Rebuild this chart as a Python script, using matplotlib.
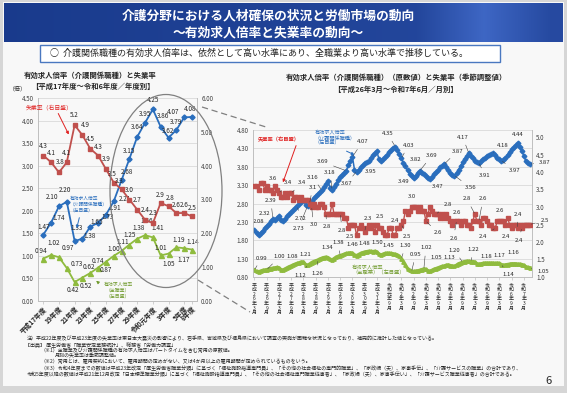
import numpy as np
import matplotlib.pyplot as plt
from matplotlib.patches import Rectangle, Ellipse, FancyArrowPatch
from matplotlib.lines import Line2D
from matplotlib.ticker import FormatStrFormatter

plt.rcParams['font.family'] = ['Noto Sans CJK JP', 'DejaVu Sans']

# ---- 年度別（左グラフ） ----
fy_ticks = ['平成17年度', '19年度', '21年度', '23年度', '25年度', '27年度', '29年度',
            '令和元年度', '3年度', '5年度', '6年度']
fy_tick_pos = [0, 2, 4, 6, 8, 10, 12, 14, 16, 18, 19]
care_fy = [1.47, 1.74, 2.10, 2.20, 1.33, 1.38, 1.65, 1.73, 1.91, 2.21,
           2.68, 3.15, 3.64, 3.95, 4.25, 3.86, 3.62, 3.79, 4.07, 4.08]
all_fy = [0.94, 1.02, 0.97, 0.73, 0.42, 0.52, 0.62, 0.74, 0.87, 1.00,
          1.11, 1.25, 1.38, 1.46, 1.41, 1.01, 1.05, 1.19, 1.17, 1.14]
unemp_fy = [4.3, 4.1, 3.8, 4.1, 5.2, 4.9, 4.5, 4.3, 3.9, 3.5,
            3.3, 3.0, 2.7, 2.4, 2.3, 2.9, 2.8, 2.6, 2.6, 2.5]

# ---- 月別（右グラフ） 平成26年3月～令和7年6月 ----
month_ticks = ['平成26年3月', '平成26年9月', '平成27年3月', '平成27年9月', '平成28年3月',
               '平成28年9月', '平成29年3月', '平成29年9月', '平成30年3月', '平成30年9月',
               '平成31年3月', '令和元年9月', '令和2年3月', '令和2年9月', '令和3年3月',
               '令和3年9月', '令和4年3月', '令和4年9月', '令和5年3月', '令和5年9月',
               '令和6年3月', '令和6年9月', '令和7年3月']
care_m = [2.08, 2.00, 1.95, 2.00, 2.06, 2.12, 2.18, 2.25, 2.32, 2.39,
          2.36, 2.40, 2.45, 2.35, 2.32, 2.38, 2.45, 2.52, 2.58, 2.63, 2.68, 2.72,
          2.78, 2.84, 2.90, 2.76, 2.73, 2.78, 2.86, 2.94, 3.01, 3.07, 3.12, 3.16,
          3.25, 3.34, 3.42, 3.22, 3.18, 3.25, 3.34, 3.43, 3.51, 3.58, 3.64, 3.69,
          3.85, 3.97, 4.07, 3.72, 3.67, 3.72, 3.79, 3.85, 3.90, 3.93, 3.95, 4.05,
          4.12, 4.18, 4.22, 4.00, 3.95, 4.00, 4.07, 4.13, 4.19, 4.25, 4.30, 4.35,
          4.25, 4.14, 4.03, 3.90, 3.82, 3.70, 3.61, 3.54, 3.49, 3.56, 3.63, 3.69,
          3.64, 3.60, 3.56, 3.50, 3.47, 3.52, 3.59, 3.66, 3.72, 3.78, 3.83, 3.87,
          3.80, 3.72, 3.64, 3.58, 3.56, 3.62, 3.72, 3.82, 3.92, 4.02, 4.10, 4.17,
          4.10, 4.03, 3.97, 3.93, 3.91, 3.95, 4.00, 4.05, 4.09, 4.13, 4.16, 4.18,
          4.12, 4.05, 4.00, 3.97, 3.99, 4.05, 4.13, 4.20, 4.27, 4.33, 4.39, 4.44,
          4.35, 4.22, 4.10, 3.95, 3.90, 3.87]
all_m = [0.99, 0.95, 0.94, 0.96, 0.98, 0.99, 1.00, 1.02, 1.03, 1.04,
         1.05, 1.06, 1.05, 1.00, 0.99, 1.02, 1.05, 1.08, 1.10, 1.13, 1.15, 1.17,
         1.19, 1.21, 1.21, 1.14, 1.12, 1.15, 1.19, 1.22, 1.24, 1.26, 1.29, 1.31,
         1.33, 1.34, 1.33, 1.28, 1.26, 1.30, 1.34, 1.36, 1.38, 1.40, 1.42, 1.44,
         1.45, 1.46, 1.45, 1.40, 1.38, 1.41, 1.44, 1.46, 1.48, 1.49, 1.50, 1.50,
         1.49, 1.50, 1.48, 1.42, 1.40, 1.42, 1.44, 1.45, 1.45, 1.44, 1.43, 1.42,
         1.40, 1.36, 1.30, 1.22, 1.12, 1.03, 0.98, 0.95, 0.95, 0.96, 0.97, 0.98,
         1.00, 1.02, 1.01, 0.97, 0.96, 0.98, 1.01, 1.03, 1.05, 1.07, 1.09, 1.10,
         1.12, 1.13, 1.11, 1.10, 1.09, 1.12, 1.16, 1.18, 1.20, 1.22, 1.23, 1.23,
         1.22, 1.22, 1.21, 1.16, 1.15, 1.16, 1.17, 1.18, 1.18, 1.18, 1.18, 1.18,
         1.17, 1.18, 1.17, 1.14, 1.12, 1.13, 1.14, 1.15, 1.16, 1.16, 1.16, 1.15,
         1.15, 1.14, 1.12, 1.08, 1.06, 1.05]
unemp_m = [3.6, 3.6, 3.5, 3.7, 3.7, 3.5, 3.6, 3.5, 3.5, 3.4,
           3.6, 3.5, 3.4, 3.3, 3.3, 3.4, 3.3, 3.4, 3.4, 3.2, 3.3, 3.3,
           3.2, 3.3, 3.2, 3.2, 3.2, 3.1, 3.0, 3.1, 3.0, 3.0, 3.1, 3.1,
           3.0, 2.8, 2.8, 2.8, 3.1, 2.8, 2.8, 2.8, 2.8, 2.8, 2.7, 2.7,
           2.4, 2.5, 2.5, 2.5, 2.2, 2.4, 2.5, 2.4, 2.3, 2.4, 2.5, 2.4,
           2.5, 2.3, 2.5, 2.4, 2.4, 2.3, 2.2, 2.2, 2.4, 2.4, 2.2, 2.2,
           2.4, 2.4, 2.5, 2.6, 2.9, 2.8, 2.9, 3.0, 3.0, 3.0, 2.9, 3.0,
           2.9, 2.9, 2.6, 2.8, 3.0, 2.9, 2.8, 2.8, 2.8, 2.7, 2.8, 2.7,
           2.8, 2.7, 2.6, 2.5, 2.6, 2.6, 2.6, 2.5, 2.6, 2.6, 2.5, 2.5,
           2.4, 2.6, 2.8, 2.6, 2.6, 2.5, 2.7, 2.7, 2.6, 2.5, 2.5, 2.4,
           2.4, 2.6, 2.6, 2.6, 2.6, 2.5, 2.7, 2.5, 2.4, 2.5, 2.5, 2.4,
           2.5, 2.4, 2.5, 2.5, 2.5, 2.5]

# 右グラフでラベルを付ける月
care_lbl = [0, 8, 9, 21, 26, 33, 38, 45, 48, 50, 56, 69, 72, 74, 78, 81, 86, 93,
            98, 105, 110, 117, 121, 129, 135]
unemp_lbl = [6, 12, 18, 27, 28, 35, 42, 47, 54, 58, 67, 72, 77, 84, 89, 96, 99,
             108, 110, 118, 122, 126, 129, 131, 135]
all_lbl = [0, 6, 17, 23, 26, 31, 35, 42, 47, 54, 59, 65, 72, 77, 83, 90, 95, 102,
           106, 113, 118, 121, 126, 135]

BLUE = '#2a6ebd'
RED = '#c0504d'
GREEN = '#8fbb3e'
GRID = '#d9d9d9'
TXT = '#262626'

W, H = 567, 393
fig = plt.figure(figsize=(W / 100, H / 100), dpi=100)
fig.patch.set_facecolor('#d6d6d6')


def rect(x0, y0, x1, y1):
    return [x0 / W, 1 - y1 / H, (x1 - x0) / W, (y1 - y0) / H]


def fx(x):
    return x / W


def fy(y):
    return 1 - y / H


def arrow(p0, p1, color, style='-|>'):
    fig.add_artist(FancyArrowPatch((fx(p0[0]), fy(p0[1])), (fx(p1[0]), fy(p1[1])),
                                   transform=fig.transFigure, arrowstyle=style,
                                   mutation_scale=4, color=color, lw=0.7))


# slide body (behind everything)
fig.add_artist(Rectangle((fx(3), fy(386)), (564 - 3) / W, (386 - 2) / H,
                         transform=fig.transFigure, facecolor='#f8f8f8', lw=0,
                         zorder=-10))

# ---- title banner ----
ax_b = fig.add_axes(rect(4, 3, 563, 42))
grad = np.linspace(0, 1, 300)
band = np.clip(1 - np.abs(grad - 0.86) / 0.12, 0, 1)
r = 0.10 + 0.05 * grad + 0.10 * band
g = 0.23 + 0.06 * grad + 0.12 * band
b = 0.55 + 0.08 * grad + 0.15 * band
img = np.dstack([r, g, b]).repeat(2, axis=0)
ax_b.imshow(img, aspect='auto', extent=[0, 1, 0, 1])
ax_b.axis('off')
fig.text(fx(268), fy(16), '介護分野における人材確保の状況と労働市場の動向', color='white',
         fontsize=9.2, weight='bold', ha='center', va='center')
fig.text(fx(268), fy(33), '～有効求人倍率と失業率の動向～', color='white',
         fontsize=9.2, weight='bold', ha='center', va='center')

# ---- summary box ----
fig.add_artist(Rectangle((fx(40), fy(62)), (500 - 40) / W, (62 - 45) / H,
                         transform=fig.transFigure, facecolor='white',
                         edgecolor='#4a78c0', lw=1.0))
fig.text(fx(50), fy(53.5), '○  介護関係職種の有効求人倍率は、依然として高い水準にあり、全職業より高い水準で推移している。',
         fontsize=6.5, ha='left', va='center', color=TXT)


def put_labels(ax, xs, ys, idx, offs, fmt, size, lead=12):
    for i, (dx, dy) in zip(idx, offs):
        far = (dx * dx + dy * dy) ** 0.5 > lead
        ax.annotate(fmt.format(ys[i]), (xs[i], ys[i]), xytext=(dx, dy),
                    textcoords='offset pixels', ha='center', va='center',
                    fontsize=size, color=TXT, zorder=8,
                    arrowprops=dict(arrowstyle='-', lw=0.4, color='#404040',
                                    shrinkA=2, shrinkB=1) if far else None)


# ---- left chart ----
fig.text(fx(90), fy(75), '有効求人倍率（介護関係職種）と失業率', fontsize=5.3,
         weight='bold', ha='center', va='center', color=TXT)
fig.text(fx(93), fy(86), '【平成17年度～令和6年度／年度別】', fontsize=5.3,
         weight='bold', ha='center', va='center', color=TXT)
fig.text(fx(18), fy(89), '（倍）', fontsize=4.3, ha='center', va='center', color=TXT)

axL = fig.add_axes(rect(38, 98, 197, 301))
axL2 = axL.twinx()
xf = np.arange(len(care_fy))
axL.plot(xf, care_fy, color=BLUE, marker='D', ms=2.6, lw=1.3, zorder=3)
axL.plot(xf, all_fy, color=GREEN, marker='^', ms=3.6, lw=1.3, zorder=3)
axL2.plot(xf, unemp_fy, color=RED, marker='s', ms=3.3, lw=1.3, zorder=3)
axL.set_xlim(-0.68, 19.64)
axL.set_ylim(0, 4.5)
axL2.set_ylim(0, 6)
axL.set_yticks(np.arange(0, 4.51, 0.5))
axL2.set_yticks(np.arange(0, 6.01, 1))
axL.yaxis.set_major_formatter(FormatStrFormatter('%.2f'))
axL2.yaxis.set_major_formatter(FormatStrFormatter('%.2f'))
axL.yaxis.grid(True, color=GRID, lw=0.6)
axL.set_axisbelow(True)
axL.set_xticks(fy_tick_pos)
axL.set_xticklabels(fy_ticks, rotation=45, ha='right', rotation_mode='anchor',
                    fontsize=4.8, weight='bold', color=TXT)
for a in (axL, axL2):
    a.set_facecolor('none')
    a.tick_params(axis='y', length=0, labelsize=4.5, labelcolor='#404040', pad=3)
    a.tick_params(axis='x', length=2, width=0.5, color='#bfbfbf', pad=1)
    for s in a.spines.values():
        s.set_color('#bfbfbf')
        s.set_linewidth(0.6)
    a.spines['top'].set_visible(False)

care_off_fy = [(0, 8), (8, 5), (-7, 9), (-2, 12), (2, 13), (7, 3), (6, 5), (10, 6), (9, 7), (11, 2),
               (5, 8), (0, 8), (0, 10), (0, 9), (0, 9), (2, 11), (0, 7), (0, 8), (-11, 5), (-2, 8)]
unemp_off_fy = [(0, 10), (0, 9), (1, 10), (0, 9), (0, 10), (3, 10), (0, 10), (0, 9), (0, 10), (-1, 9),
                (-2, 8), (0, 10), (0, 10), (0, 10), (0, 10), (0, 8), (2, 8), (0, 8), (0, 8), (0, 8)]
all_off_fy = [(-2, 8), (3, 12), (9, 9), (10, 4), (-2, -8), (3, -8), (-1, 6), (0, 7), (0, -8), (0, 7),
              (1, 9), (0, 10), (1, 11), (2, 14), (5, 9), (0, 7), (0, -10), (2, 7), (0, -12), (1, 8)]
put_labels(axL, xf, care_fy, range(20), care_off_fy, '{:.2f}', 4.6, lead=99)
put_labels(axL, xf, all_fy, range(20), all_off_fy, '{:.2f}', 4.6, lead=99)
put_labels(axL2, xf, unemp_fy, range(20), unemp_off_fy, '{:.1f}', 4.6, lead=99)

fig.text(fx(49), fy(107), '失業率（右目盛）', fontsize=4.2, color='#e02020',
         ha='center', va='center')
arrow((57, 111), (70, 137), '#e02020')
fig.text(fx(70), fy(204), '有効求人倍率\n（介護関係職種）\n（左目盛）', fontsize=3.4,
         color=BLUE, ha='left', va='center', linespacing=1.15)
arrow((80, 215), (76, 231), BLUE)
fig.text(fx(118), fy(290), '有効求人倍率\n（全職業）\n（左目盛）', fontsize=3.5,
         color='#6f9a2c', ha='center', va='center', linespacing=1.15)
arrow((100, 284), (94, 279), '#6f9a2c')

# zoom ellipse and dashed guides
fig.add_artist(Ellipse((fx(166), fy(191)), 112 / W, 193 / H, transform=fig.transFigure,
                       fill=False, edgecolor='#808080', lw=0.9))
fig.add_artist(Line2D([fx(202), fx(266)], [fy(107), fy(127)], transform=fig.transFigure,
                      color='#808080', lw=0.9, ls=(0, (5, 3))))
fig.add_artist(Line2D([fx(198), fx(250)], [fy(280), fy(312)], transform=fig.transFigure,
                      color='#808080', lw=0.9, ls=(0, (5, 3))))

# ---- right chart ----
fig.text(fx(396), fy(77), '有効求人倍率（介護関係職種）（原数値）と失業率（季節調整値）',
         fontsize=5.3, weight='bold', ha='center', va='center', color=TXT)
fig.text(fx(396), fy(89), '【平成26年3月～令和7年6月／月別】', fontsize=5.3,
         weight='bold', ha='center', va='center', color=TXT)

axR = fig.add_axes(rect(253, 130, 532, 277))
axR2 = axR.twinx()
xm = np.arange(len(care_m))
axR.plot(xm, all_m, color=GREEN, marker='^', ms=2.4, lw=2.4, zorder=3)
axR.plot(xm, care_m, color=BLUE, marker='D', ms=2.4, lw=1.1, zorder=3)
axR2.plot(xm, unemp_m, color=RED, marker='s', ms=2.3, lw=1.0, zorder=3)
axR.set_xlim(-0.73, 136.0)
axR.set_ylim(0.8, 4.8)
axR2.set_ylim(1.0, 5.2)
axR.set_yticks(np.arange(0.8, 4.81, 0.5))
axR2.set_yticks(np.arange(1.0, 5.01, 0.5))
axR.yaxis.set_major_formatter(FormatStrFormatter('%.2f'))
axR2.yaxis.set_major_formatter(FormatStrFormatter('%.1f'))
axR.yaxis.grid(True, color=GRID, lw=0.6)
axR.set_axisbelow(True)
axR.set_xticks(np.arange(0, len(care_m), 6))
axR.set_xticklabels(['\n'.join(t) for t in month_ticks], fontsize=3.6,
                    linespacing=0.9, va='top', color=TXT)
for a in (axR, axR2):
    a.set_facecolor('none')
    a.tick_params(axis='y', length=0, labelsize=4.5, labelcolor='#404040', pad=3)
    a.tick_params(axis='x', length=2, width=0.5, color='#bfbfbf', pad=2)
    for s in a.spines.values():
        s.set_color('#bfbfbf')
        s.set_linewidth(0.6)
    a.spines['top'].set_visible(False)

care_off = [(4, 8), (-6, 8), (-2, 18), (3, -12), (-9, -22), (-9, 13), (-2, 17), (-24, 9),
            (10, 15), (-10, -12), (2, -10), (-8, 13), (7, 13), (10, 7), (-10, -3), (12, 15),
            (8, -8), (13, 13), (16, -12), (-6, 16), (6, -13), (10, 7), (13, -10), (0, 9), (15, 2)]
unemp_off = [(6, 8), (9, 10), (11, 10), (3, 16), (2, -18), (1, -13), (2, -16), (0, -12),
             (3, 13), (7, 8), (4, 7), (6, -12), (0, 10), (12, -12), (12, 9), (7, 9), (-3, -17),
             (-8, 15), (4, 22), (-12, -9), (-3, 10), (-6, -9), (0, 14), (-3, -12), (15, 4)]
all_off = [(7, 12), (13, 13), (3, 10), (4, 7), (-7, -10), (0, -13), (1, 10), (-2, 13),
           (2, 8), (0, 9), (2, 9), (1, 8), (4, 13), (4, 17), (2, 21), (-2, 10), (1, 7),
           (-8, 12), (3, 12), (1, 7), (4, 8), (7, -10), (2, 11), (13, -4)]
put_labels(axR, xm, care_m, care_lbl, care_off, '{:.2f}', 4.3)
put_labels(axR, xm, all_m, all_lbl, all_off, '{:.2f}', 4.3)
put_labels(axR2, xm, unemp_m, unemp_lbl, unemp_off, '{:.1f}', 4.3)

fig.text(fx(279), fy(140), '失業率（右目盛）', fontsize=3.8, color='#e02020',
         weight='bold', ha='center', va='center')
arrow((297, 143), (282, 185), '#e02020')
fig.text(fx(315), fy(138), '有効求人倍率\n（介護関係職種）\n（左目盛）', fontsize=3.7,
         color=BLUE, ha='left', va='center', linespacing=1.1)
arrow((344, 150), (357, 156), BLUE)
fig.text(fx(352), fy(270), '有効求人倍率\n（全職業）（左目盛）', fontsize=3.8,
         color='#6f9a2c', ha='left', va='center', linespacing=1.05)

# ---- footnotes ----
notes = [
    (27, 338, '注）平成22年度及び平成23年度の失業率は東日本大震災の影響により、岩手県、宮城県及び福島県において調査の実施が困難な状況となっており、補完的に推計した値となっている。'),
    (25, 344, '【出典】 厚生労働省「職業安定業務統計」、総務省「労働力調査」'),
    (40, 350, '（※1）全職業及び介護関係職種の有効求人倍率はパートタイムを含む常用の原数値。'),
    (55, 356, '月別の失業率は季節調整値。'),
    (40, 362, '（※2）常用とは、雇用契約において、雇用期間の定めがない、又は4か月以上の雇用期間が定められているものをいう。'),
    (40, 368, '（※3）令和4年度までの数値は平成23年改定「厚生労働省職業分類」に基づく「福祉施設指導専門員」、「その他の社会福祉の専門的職業」、「家政婦（夫）、家事手伝」、「介護サービスの職業」の合計であり、'),
    (27, 374, '令和5年度以降の数値は平成21年12月改定「日本標準職業分類」に基づく「福祉施設指導専門員」、「その他の社会福祉専門職業従事者」、「家政婦（夫）、家事手伝い」、「介護サービス職業従事者」の合計である。'),
]
for x, y, t in notes:
    fig.text(fx(x), fy(y), t, fontsize=3.6, ha='left', va='center', color=TXT)
fig.text(fx(549), fy(381), '6', fontsize=8, ha='center', va='center', color=TXT)

fig.savefig('out.png', dpi=100, facecolor=fig.get_facecolor())
